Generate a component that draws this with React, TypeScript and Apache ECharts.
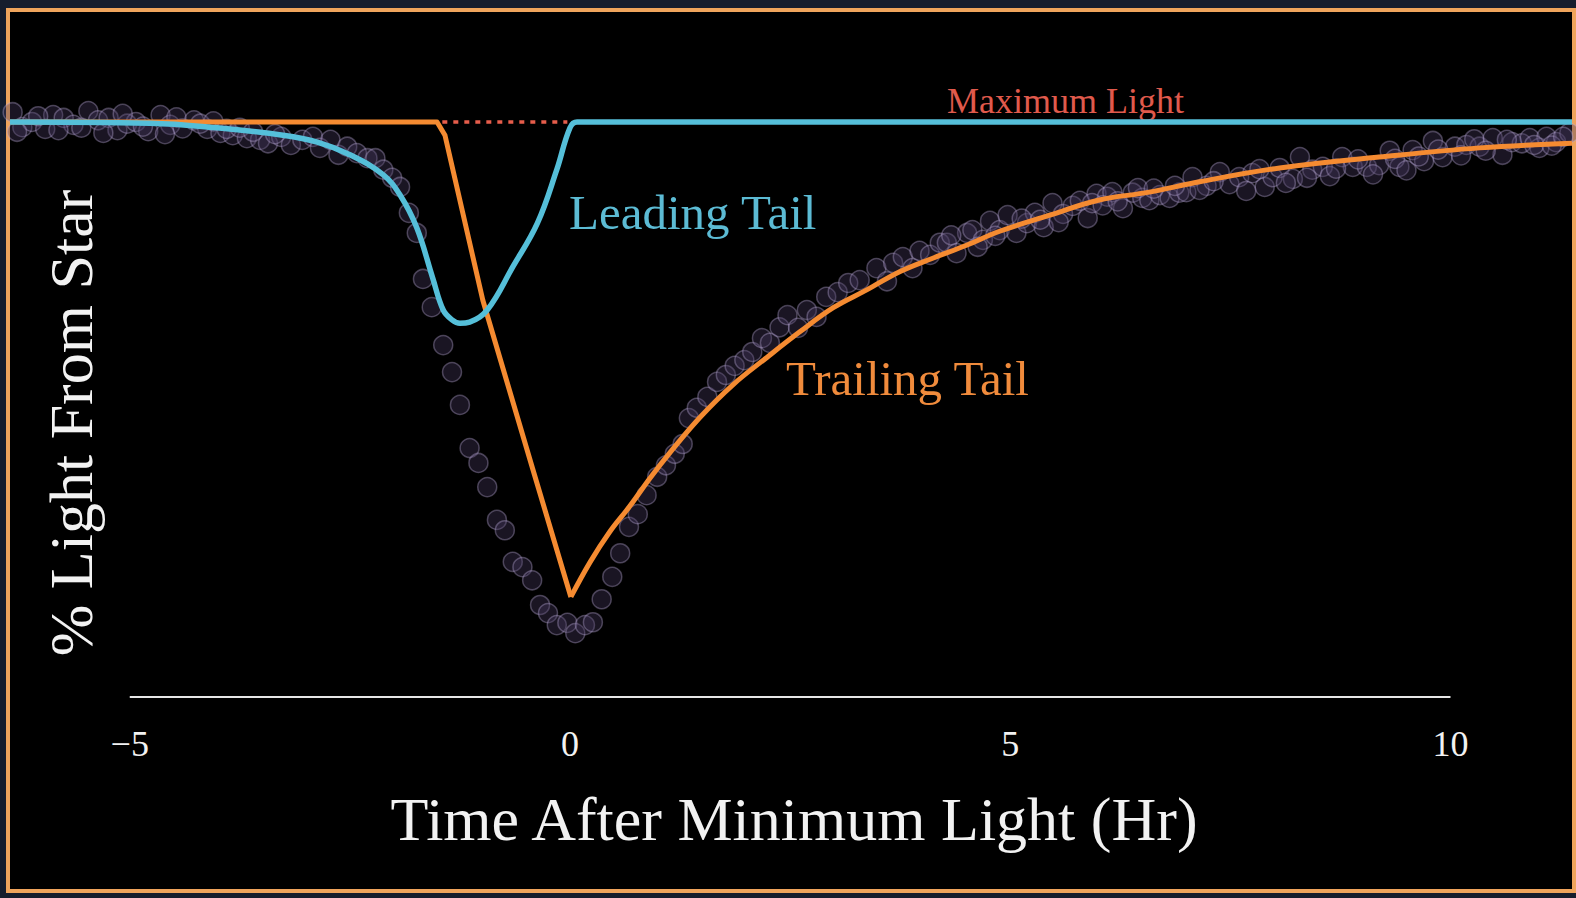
import React, { useEffect, useRef } from "react";
import * as echarts from "echarts";

// ---------- data (time in hours after minimum light, light in % of maximum) ----------
const timeTicks = [-5, 0, 5, 10];
const axisSpan = [-5, 10];

// trailing-tail model: flat, sharp fall to the minimum, then slow recovery
const trailingTime = [
  -6.36, -1.51, -1.42, -0.99, -0.43, 0.01, 0.23, 0.45, 0.68, 0.91, 1.14, 1.48, 1.85, 2.24,
  2.61, 2.99, 3.37, 3.75, 4.12, 4.51, 4.88, 5.45, 6.0, 6.58, 7.15, 8.06, 9.19, 10.33, 11.38,
];
const trailingLight = [
  100, 100, 97.7, 69.0, 40.0, 17.4, 23.5, 28.7, 33.2, 38.1, 42.6, 48.7, 54.3, 59.1,
  63.5, 67.7, 70.8, 74.0, 76.3, 78.6, 81.0, 83.8, 86.4, 87.8, 89.6, 92.0, 93.9, 95.5, 96.3,
];
const trailingMinIndex = 5;

// leading-tail model
const leadingTime = [
  -6.36, -4.77, -4.01, -3.26, -2.87, -2.5, -2.12, -1.93, -1.74, -1.56, -1.44, -1.34, -1.25,
  -1.14, -0.94, -0.65, -0.37, -0.15, 0.0, 0.08, 11.38,
];
const leadingLight = [
  100, 99.8, 99.0, 97.7, 96.5, 94.3, 90.8, 87.3, 81.6, 72.9, 67.3, 65.6, 65.0,
  65.2, 67.3, 74.8, 82.4, 91.7, 99.0, 100, 100,
];

const maxLightTime = [-1.45, -0.03];
const maxLightLevel = 100;

// observed photometry points
const observedTime = [
  -6.33, -6.22, -6.11, -5.96, -5.87, -5.75, -5.64, -5.47, -5.36, -5.24, -5.14, -5.03, -4.93,
  -4.79, -4.65, -4.54, -4.4, -4.27, -4.12, -3.97, -3.83, -3.67, -3.52, -3.43, -3.28, -3.17,
  -3.04, -2.92, -2.84, -2.72, -2.63, -2.53, -2.42, -2.3, -2.21, -2.12, -2.02, -1.93, -1.83,
  -1.74, -1.67, -1.57, -1.44, -1.34, -1.25, -1.14, -1.04, -0.94, -0.83, -0.74, -0.65, -0.54,
  -0.43, -0.34, -0.25, -0.15, -0.03, 0.06, 0.17, 0.26, 0.36, 0.48, 0.57, 0.67, 0.77, 0.87,
  0.99, 1.09, 1.19, 1.28, 1.35, 1.44, 1.56, 1.67, 1.77, 1.87, 1.98, 2.07, 2.18, 2.27, 2.38,
  2.47, 2.59, 2.69, 2.8, 2.91, 3.04, 3.16, 3.29, 3.48, 3.6, 3.67, 3.78, 3.89, 3.97, 4.09,
  4.2, 4.28, 4.39, 4.51, 4.57, 4.69, 4.77, 4.88, 4.97, 5.07, 5.19, 5.28, 5.38, 5.48, 5.6,
  5.71, 5.79, 5.88, 5.98, 6.1, 6.16, 6.28, 6.39, 6.5, 6.58, 6.7, 6.81, 6.92, 7.0, 7.07,
  7.23, 7.38, 7.49, 7.6, 7.75, 7.89, 7.98, 8.06, 8.21, 8.29, 8.43, 8.55, 8.63, 8.77, 8.89,
  9.05, 9.19, 9.31, 9.42, 9.57, 9.7, 9.8, 9.91, 10.05, 10.18, 10.33, 10.48, 10.59, 10.7,
  10.81, 10.9, 11.01, 11.09, 11.2, 11.35,
  -6.28, -6.04, -5.81, -5.55, -5.3, -5.08, -4.85, -4.6, -4.47, -4.2, -4.05, -3.9, -3.75,
  -3.6, -3.35, 4.33, 4.63, 4.83, 5.13, 5.34, 5.55, 5.93, 6.05, 6.22, 6.45, 6.63, 6.87,
  7.15, 7.31, 7.68, 7.83, 8.13, 8.37, 8.7, 8.95, 9.12, 9.37, 9.5, 9.64, 9.86, 10.12, 10.27,
  10.4, 10.64, 10.95, 11.15, 11.28,
];
const observedLight = [
  101.7, 99.1, 100.0, 98.8, 101.2, 100.7, 99.5, 101.9, 100.3, 100.7, 98.6, 99.7, 100.0,
  98.4, 101.2, 99.5, 98.9, 100.3, 98.8, 98.1, 97.7, 97.2, 96.9, 96.3, 97.4, 96.0,
  96.9, 97.4, 95.5, 96.9, 94.3, 95.7, 94.6, 93.7, 93.7, 91.7, 90.3, 88.7, 84.2,
  80.7, 72.7, 67.8, 61.2, 56.5, 50.8, 43.3, 40.7, 36.5, 30.8, 29.0, 23.5, 22.6,
  20.3, 16.0, 14.6, 12.5, 12.9, 11.1, 12.5, 13.0, 17.0, 20.9, 25.0, 29.6, 31.8, 35.1,
  38.3, 40.3, 42.3, 44.0, 48.5, 50.3, 52.2, 54.8, 56.0, 57.6, 58.6, 60.0, 62.4, 61.6, 64.3,
  66.4, 64.2, 67.3, 66.1, 69.6, 70.4, 72.0, 72.5, 74.6, 72.3, 75.5, 76.5, 74.6, 77.6, 76.9,
  79.0, 79.0, 77.2, 80.7, 81.2, 79.5, 82.8, 81.2, 83.8, 80.7, 82.4, 84.2, 81.7, 85.9, 84.0,
  85.4, 86.3, 83.3, 87.5, 87.0, 87.8, 85.0, 87.7, 86.8, 86.4, 87.3, 86.8, 87.7, 87.8, 90.4,
  88.9, 91.3, 89.2, 90.4, 91.1, 88.7, 90.4, 92.0, 90.1, 93.9, 91.7, 92.2, 90.6, 93.9, 92.2,
  92.2, 92.5, 95.0, 92.2, 95.1, 93.2, 96.7, 93.9, 95.7, 96.0, 95.7, 97.2, 94.3, 96.5,
  96.3, 97.2, 95.5, 97.4, 96.5, 98.1,
  98.3, 101.0, 98.6, 99.0, 98.1, 101.4, 99.2, 97.9, 100.8, 99.7, 100.1, 98.8, 99.0,
  98.3, 97.9, 80.3, 78.3, 80.2, 83.2, 83.0, 82.6, 85.9, 85.5, 86.2, 88.5, 88.4, 88.9,
  88.2, 89.7, 88.0, 91.8, 89.4, 90.3, 91.9, 93.5, 90.9, 93.6, 91.6, 94.0, 95.2, 94.2, 97.0,
  95.0, 96.9, 96.0, 95.9, 97.4,
];

const xRange = [-6.36, 11.38];
const yRange = [0, 119.13];

const SERIF = "Liberation Serif";
const ORANGE = "#f58b31";

const zip = (a: number[], b: number[]) => a.map((v, i) => [v, b[i]]);

export default function App() {
  const ref = useRef<HTMLDivElement>(null);

  useEffect(() => {
    if (!ref.current) return;
    const chart = echarts.init(ref.current, null, { renderer: "svg" });
    const trailing = zip(trailingTime, trailingLight);
    chart.setOption({
      animation: false,
      backgroundColor: "transparent",
      grid: { left: 10, right: 4, top: 12, bottom: 201 },
      xAxis: {
        type: "value",
        min: xRange[0],
        max: xRange[1],
        axisLine: { show: false },
        axisTick: { show: false },
        splitLine: { show: false },
        axisLabel: {
          customValues: timeTicks,
          margin: 29,
          color: "#f2f2f2",
          fontSize: 36,
          fontFamily: SERIF,
          formatter: (v: number) => (v < 0 ? "\u2212" + Math.abs(v) : String(v)),
        },
      },
      yAxis: { type: "value", min: yRange[0], max: yRange[1], show: false },
      series: [
        {
          type: "scatter",
          name: "Observed",
          data: zip(observedTime, observedLight),
          symbol: "circle",
          symbolSize: 19,
          z: 1,
          itemStyle: {
            color: "rgba(72, 58, 98, 0.45)",
            borderColor: "rgba(190, 176, 222, 0.45)",
            borderWidth: 1.5,
          },
        },
        {
          type: "line",
          name: "Trailing Tail",
          data: trailing.slice(0, trailingMinIndex + 1),
          symbol: "none",
          z: 3,
          lineStyle: { color: ORANGE, width: 5, join: "round" },
        },
        {
          type: "line",
          name: "Trailing Tail",
          data: trailing.slice(trailingMinIndex),
          symbol: "none",
          smooth: 0.4,
          z: 3,
          lineStyle: { color: ORANGE, width: 5 },
        },
        {
          type: "line",
          name: "Leading Tail",
          data: zip(leadingTime, leadingLight),
          symbol: "none",
          smooth: 0.4,
          z: 4,
          lineStyle: { color: "#55bfd9", width: 5.5 },
        },
        {
          type: "line",
          name: "Maximum Light",
          data: maxLightTime.map((t) => [t, maxLightLevel]),
          symbol: "none",
          z: 2,
          lineStyle: { color: "#e65d4b", width: 3.5, type: [5, 6] },
        },
        {
          type: "line",
          name: "axis",
          data: axisSpan.map((t) => [t, yRange[0]]),
          symbol: "none",
          clip: false,
          z: 2,
          lineStyle: { color: "#e6e6e6", width: 2 },
        },
      ],
      graphic: [
        {
          type: "text",
          left: 569,
          top: 188,
          style: { text: "Leading Tail", fill: "#5cbbd4", fontSize: 49, fontFamily: SERIF },
        },
        {
          type: "text",
          left: 786,
          top: 354,
          style: { text: "Trailing Tail", fill: "#f08b3c", fontSize: 49, fontFamily: SERIF },
        },
        {
          type: "text",
          left: 947,
          top: 83,
          style: { text: "Maximum Light", fill: "#e05a4c", fontSize: 36, fontFamily: SERIF },
        },
        {
          type: "text",
          x: 71,
          y: 423,
          rotation: Math.PI / 2,
          style: {
            text: "% Light From Star",
            fill: "#f2f2f2",
            fontSize: 62,
            fontFamily: SERIF,
            align: "center",
            verticalAlign: "middle",
          },
        },
        {
          type: "text",
          x: 794,
          y: 819,
          style: {
            text: "Time After Minimum Light (Hr)",
            fill: "#f2f2f2",
            fontSize: 62,
            fontFamily: SERIF,
            align: "center",
            verticalAlign: "middle",
          },
        },
      ],
    });
    return () => chart.dispose();
  }, []);

  return (
    <div style={{ position: "fixed", left: 0, top: 0, width: 1576, height: 898, background: "#161d2d", overflow: "hidden" }}>
      <div
        style={{
          position: "absolute",
          left: 6,
          top: 8,
          width: 1570,
          height: 885,
          boxSizing: "border-box",
          border: "4px solid #efa45c",
          background: "#000",
        }}
      />
      <div ref={ref} style={{ position: "absolute", left: 0, top: 0, width: 1576, height: 898 }} />
    </div>
  );
}
